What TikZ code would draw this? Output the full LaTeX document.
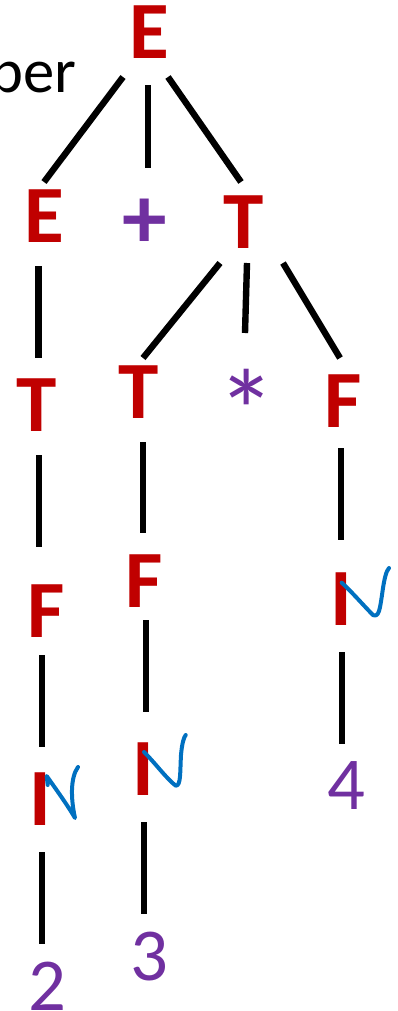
\documentclass[tikz,border=0pt]{standalone}
\usepackage{fontspec}
\setmainfont{Carlito}
\definecolor{symred}{HTML}{C00000}
\definecolor{sympurple}{HTML}{7030A0}
\definecolor{penblue}{HTML}{0070C0}
\tikzstyle{nonterm} = [text=symred, font=\fontsize{61}{61}\selectfont\bfseries, inner sep=0pt, text height=38.6pt, text depth=0pt]
\tikzstyle{oper} = [text=sympurple, inner sep=0pt, text height=0pt, text depth=0pt, anchor=base]
\tikzstyle{digit} = [text=sympurple, font=\fontsize{56}{56}\selectfont, inner sep=0pt, text height=36pt, text depth=0pt]
\tikzstyle{edge} = [draw, line width=4.8pt]
\tikzstyle{pen} = [draw=penblue, line width=3pt, line cap=round, line join=round]
\begin{document}
\begin{tikzpicture}[x=0.75pt, y=-0.75pt]
    \useasboundingbox (0,0) rectangle (398,1011);
    \node (word) [anchor=base east, inner sep=0pt, font=\fontsize{47}{47}\selectfont] at (77,92) {ber};

    % nonterminals
    \node (e0) [nonterm] at (149.5,32.5) {E};
    \node (e1) [nonterm] at (44,216.5) {E};
    \node (t1) [nonterm] at (244,223) {T};
    \node (t3) [nonterm] at (36.5,406) {T};
    \node (t2) [nonterm] at (138.5,393) {T};
    \node (f1) [nonterm] at (343.5,402) {F};
    \node (f2) [nonterm] at (46.5,612) {F};
    \node (f3) [nonterm] at (144.5,581.5) {F};
    \node (i1) [nonterm] at (40,800) {I};
    \node (i2) [nonterm] at (143.5,769.5) {I};
    \node (i3) [nonterm] at (341,599.5) {I};

    % terminals
    \node (plus) [oper, font=\fontsize{67}{67}\selectfont\bfseries] at (145,248) {+};
    \node (star) [oper, font=\fontsize{88}{88}\selectfont] at (247,452) {*};
    \node (n2) [digit] at (47,986) {2};
    \node (n3) [digit] at (149.5,956) {3};
    \node (n4) [digit] at (346.5,785.5) {4};

    \draw [edge] ([shift={(-26.5,44.5)}]e0.center) -- ([shift={(0,-34.5)}]e1.center);
    \draw [edge] ([shift={(-1.5,52.5)}]e0.center) -- ([shift={(3,-80)}]plus.base);
    \draw [edge] ([shift={(18.5,44.5)}]e0.center) -- ([shift={(-3,-41)}]t1.center);

    \draw [edge] ([shift={(-5.5,49.5)}]e1.center) -- ([shift={(2,-48)}]t3.center);
    \draw [edge] ([shift={(-24,40)}]t1.center) -- ([shift={(4.5,-35)}]t2.center);
    \draw [edge] ([shift={(3,40)}]t1.center) -- ([shift={(-2,-119)}]star.base);
    \draw [edge] ([shift={(39,40)}]t1.center) -- ([shift={(-3.5,-44)}]f1.center);

    \draw [edge] ([shift={(2.5,49)}]t3.center) -- ([shift={(-7.5,-65)}]f2.center);
    \draw [edge] ([shift={(-4.5,43)}]f2.center) -- ([shift={(2,-53)}]i1.center);
    \draw [edge] ([shift={(2,52)}]i1.center) -- ([shift={(-5,-42)}]n2.center);

    \draw [edge] ([shift={(4.5,49)}]t2.center) -- ([shift={(-1.5,-48.5)}]f3.center);
    \draw [edge] ([shift={(1.5,38.5)}]f3.center) -- ([shift={(2.5,-57.5)}]i2.center);
    \draw [edge] ([shift={(0.5,52.5)}]i2.center) -- ([shift={(-5.5,-42)}]n3.center);

    \draw [edge] ([shift={(-2.5,46)}]f1.center) -- ([shift={(0,-59.5)}]i3.center);
    \draw [edge] ([shift={(1,52.5)}]i3.center) -- ([shift={(-4.5,-41.5)}]n4.center);

    % hand-written N marks
    \draw [pen] (47.7,785) -- (46.7,776) .. controls (58,792) and (68,806) .. (75,818)
        .. controls (71,800) and (70,778) .. (78,767);
    \draw [pen] (144,752) .. controls (156,764) and (166,778) .. (175.7,785.7)
        .. controls (181,786) and (180,772) .. (181,755) .. controls (182,743) and (184,737) .. (185.7,735);
    \draw [pen] (341.7,582.7) .. controls (352,592) and (364,606) .. (373,615)
        .. controls (379,618) and (380,608) .. (382,595) .. controls (384,580) and (386,571) .. (389,568);
\end{tikzpicture}
\end{document}
